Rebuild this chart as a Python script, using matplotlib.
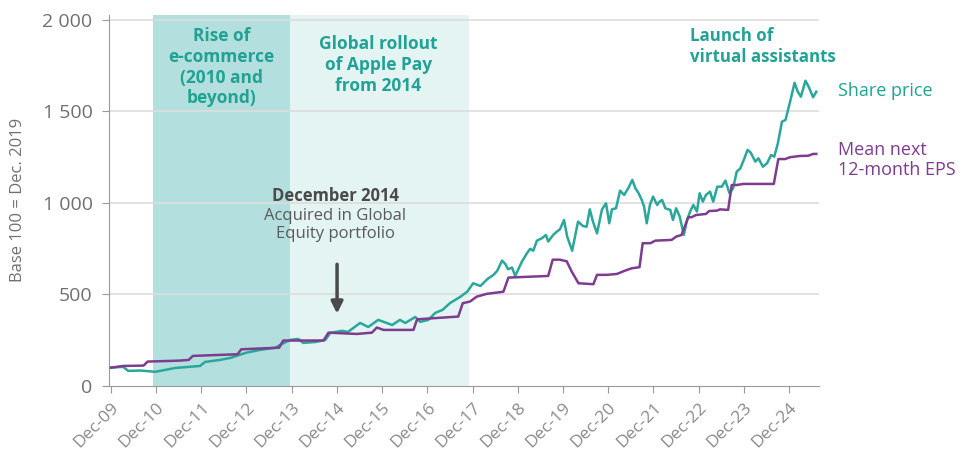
import matplotlib
matplotlib.use("Agg")
import matplotlib.pyplot as plt
import numpy as np

plt.rcParams['font.family'] = ['Open Sans', 'DejaVu Sans']

# share price, base 100 = Dec 2009 (decimal years)
price_t = [2009.92, 2010.19, 2010.30, 2010.57, 2010.90, 2011.34, 2011.89, 2012.00, 2012.33, 2012.56,
           2012.89, 2013.22, 2013.55, 2013.66, 2013.88, 2014.06, 2014.17, 2014.44, 2014.66, 2014.77,
           2015.03, 2015.16, 2015.43, 2015.61, 2015.83, 2016.14, 2016.31, 2016.43, 2016.65, 2016.76,
           2016.94, 2017.09, 2017.25, 2017.42, 2017.64, 2017.80, 2017.93, 2018.09, 2018.24, 2018.38,
           2018.46, 2018.57, 2018.64, 2018.70, 2018.79, 2018.86, 2019.01, 2019.12, 2019.19, 2019.26,
           2019.34, 2019.45, 2019.54, 2019.59, 2019.70, 2019.78, 2019.85, 2019.94, 2020.01, 2020.12,
           2020.25, 2020.36, 2020.44, 2020.51, 2020.58, 2020.67, 2020.78, 2020.87, 2020.94, 2021.00,
           2021.09, 2021.18, 2021.27, 2021.36, 2021.45, 2021.52, 2021.59, 2021.66, 2021.71, 2021.77,
           2021.84, 2021.91, 2022.00, 2022.05, 2022.11, 2022.18, 2022.29, 2022.35, 2022.42, 2022.50,
           2022.59, 2022.66, 2022.73, 2022.80, 2022.88, 2022.94, 2023.01, 2023.08, 2023.17, 2023.24,
           2023.33, 2023.43, 2023.51, 2023.60, 2023.68, 2023.76, 2023.84, 2023.93, 2024.00, 2024.07,
           2024.17, 2024.24, 2024.34, 2024.43, 2024.52, 2024.59, 2024.67, 2024.76, 2024.84, 2024.95,
           2025.04, 2025.11, 2025.18, 2025.28, 2025.35, 2025.45, 2025.52]
price_v = [100, 104, 82, 84, 77, 98, 109, 131, 142, 153,
           180, 197, 208, 224, 251, 257, 235, 240, 251, 290,
           301, 295, 344, 322, 361, 333, 361, 344, 377, 350,
           361, 399, 415, 453, 486, 515, 561, 546, 583, 607,
           628, 685, 667, 638, 647, 601, 680, 725, 749, 739,
           794, 807, 825, 789, 825, 843, 856, 907, 816, 739,
           898, 874, 870, 965, 898, 834, 965, 998, 889, 965,
           971, 1067, 1044, 1080, 1126, 1080, 1053, 1016, 980, 889,
           989, 1035, 989, 1007, 1016, 971, 962, 907, 971, 925,
           825, 907, 953, 989, 953, 1053, 1007, 1044, 1062, 1007,
           1089, 1089, 1122, 1053, 1080, 1171, 1189, 1244, 1290, 1275,
           1226, 1244, 1198, 1217, 1262, 1253, 1326, 1444, 1454, 1563,
           1657, 1608, 1581, 1668, 1636, 1578, 1608]

# mean next 12-month EPS
eps_t = [2009.92, 2010.19, 2010.64, 2010.73, 2011.42, 2011.64, 2011.73, 2012.72, 2012.80, 2013.64,
         2013.73, 2014.62, 2014.73, 2015.36, 2015.69, 2015.80, 2015.95, 2016.61, 2016.69, 2017.60,
         2017.70, 2017.86, 2018.01, 2018.23, 2018.60, 2018.71, 2019.59, 2019.69, 2019.85, 2020.00,
         2020.11, 2020.26, 2020.59, 2020.67, 2020.89, 2021.11, 2021.29, 2021.44, 2021.61, 2021.68,
         2021.85, 2021.96, 2022.32, 2022.42, 2022.54, 2022.69, 2022.76, 2022.86, 2023.08, 2023.15,
         2023.32, 2023.39, 2023.57, 2023.65, 2023.76, 2023.90, 2024.58, 2024.68, 2024.83, 2024.94,
         2025.16, 2025.34, 2025.45, 2025.52]
eps_v = [100, 109, 111, 133, 138, 142, 164, 173, 200, 209,
         248, 248, 291, 284, 291, 319, 306, 306, 364, 379,
         452, 461, 488, 503, 515, 592, 601, 690, 690, 681,
         625, 561, 556, 607, 607, 612, 630, 643, 649, 780,
         780, 794, 798, 816, 825, 922, 922, 934, 940, 956,
         958, 965, 962, 1098, 1098, 1104, 1104, 1240, 1240, 1250,
         1257, 1258, 1268, 1268]

tick_years = list(range(2009, 2025))
tick_labels = ["Dec-%02d" % (y % 100) for y in tick_years]
yticks = [0, 500, 1000, 1500, 2000]
ytick_labels = ["0", "500", "1 000", "1 500", "2 000"]

teal = "#2aa79b"
teal_txt = "#21a295"
purple = "#7d3c8f"
grey = "#707070"

fig = plt.figure(figsize=(9.75, 4.54), dpi=100)
ax = fig.add_axes([0.112, 0.15, 0.728, 0.818])

# shaded periods
ax.axvspan(2010.84, 2013.88, color="#b3e0de", lw=0, zorder=0)
ax.axvspan(2013.88, 2017.83, color="#e4f4f3", lw=0, zorder=0)

for y in yticks[1:]:
    ax.axhline(y, color="#dddddd", lw=1.2, zorder=0.5)

ax.plot(eps_t, eps_v, color=purple, lw=1.8, zorder=3)
ax.plot(price_t, price_v, color=teal, lw=1.8, zorder=2)

ax.set_xlim(2009.88, 2025.58)
ax.set_ylim(0, 2030)
ax.set_xticks([y + 11 / 12 for y in tick_years])
ax.set_xticklabels(tick_labels, rotation=45, ha="right", rotation_mode="anchor")
ax.set_yticks(yticks)
ax.set_yticklabels(ytick_labels)
ax.tick_params(axis="both", colors="#999999", labelcolor="#8a8a8a", length=5)
ax.tick_params(axis="x", labelsize=12.5, pad=5)
ax.tick_params(axis="y", labelsize=14, pad=7, labelcolor=grey)
ax.set_ylabel("Base 100 = Dec. 2019", color=grey, fontsize=12, labelpad=12)
for s in ["top", "right"]:
    ax.spines[s].set_visible(False)
for s in ["left", "bottom"]:
    ax.spines[s].set_color("#999999")

# period labels
ax.text(2012.36, 1962, "Rise of\ne-commerce\n(2010 and\nbeyond)", ha="center", va="top",
        color=teal_txt, fontsize=12.5, fontweight="bold", linespacing=1.2)
ax.text(2015.83, 1918, "Global rollout\nof Apple Pay\nfrom 2014", ha="center", va="top",
        color=teal_txt, fontsize=12.5, fontweight="bold", linespacing=1.2)
ax.text(2022.73, 1962, "Launch of\nvirtual assistants", ha="left", va="top",
        color=teal_txt, fontsize=12.2, fontweight="bold", linespacing=1.2)

# purchase annotation
ax.text(2014.88, 1085, "December 2014", ha="center", va="top", color="#4a4a4a",
        fontsize=12, fontweight="bold")
ax.text(2014.88, 975, "Acquired in Global\nEquity portfolio", ha="center", va="top",
        color="#5a5a5a", fontsize=12, linespacing=1.2)
ax.annotate("", xy=(2014.92, 380), xytext=(2014.92, 680),
            arrowprops=dict(arrowstyle="-|>,head_width=0.35,head_length=0.7",
                            color="#4a4a4a", lw=2.5))

# series labels
ax.text(2026.0, 1612, "Share price", ha="left", va="center", color=teal_txt,
        fontsize=13, clip_on=False)
ax.text(2026.0, 1235, "Mean next\n12-month EPS", ha="left", va="center", color=purple,
        fontsize=13, linespacing=1.2, clip_on=False)

fig.savefig("out.png", dpi=100)
